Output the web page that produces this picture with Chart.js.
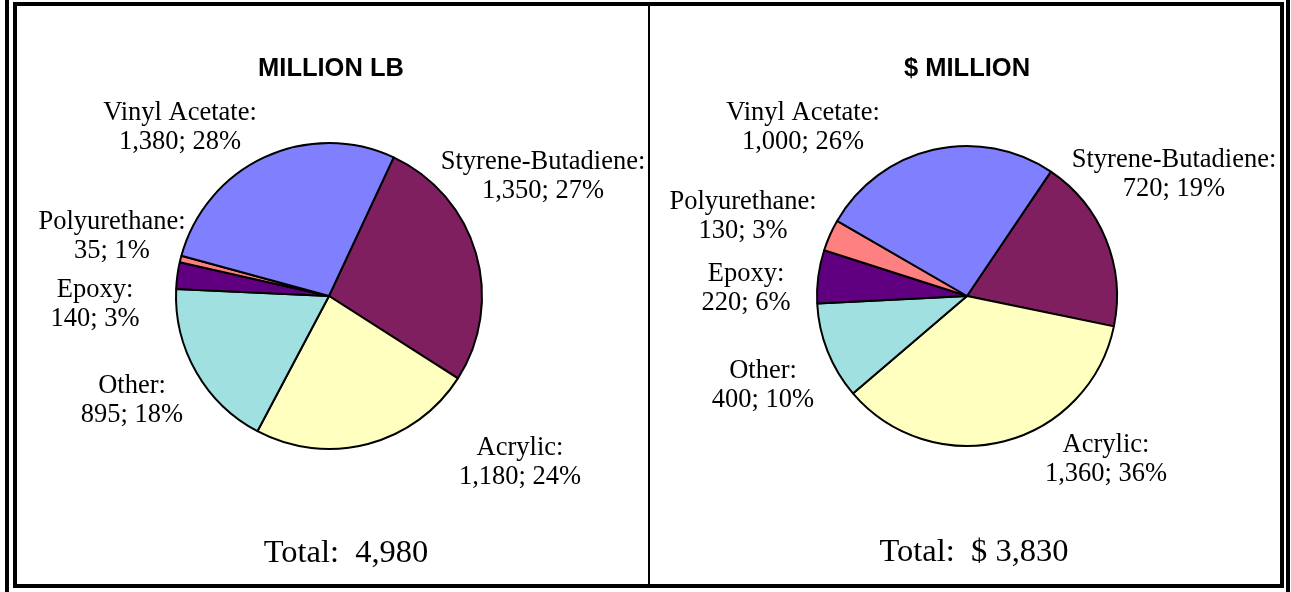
<!DOCTYPE html>
<html>
<head>
<meta charset="utf-8">
<script src="https://cdn.jsdelivr.net/npm/chart.js@4.4.1/dist/chart.umd.min.js"></script>
<style>
  html, body { margin: 0; padding: 0; background: #fff; }
  body { width: 1291px; height: 592px; position: relative; overflow: hidden; }
  .bar { position: absolute; background: #000; }
  .frame { position: absolute; left: 13px; top: 2px; width: 1263px; height: 578px; border: 4px solid #000; }
  canvas { position: absolute; }
</style>
</head>
<body>
<div class="bar" style="left:5px;top:0;width:4px;height:592px"></div>
<div class="bar" style="left:1286px;top:0;width:4px;height:592px"></div>
<div class="frame"></div>
<div class="bar" style="left:648px;top:6px;width:2px;height:578px"></div>
<canvas id="left" width="631" height="578" style="left:17px;top:6px;width:631px;height:578px"></canvas>
<canvas id="right" width="630" height="578" style="left:650px;top:6px;width:630px;height:578px"></canvas>
<script>
// ---- data ----
const categories = ['Styrene-Butadiene', 'Acrylic', 'Other', 'Epoxy', 'Polyurethane', 'Vinyl Acetate'];
const volumeValues = [1350, 1180, 895, 140, 35, 1380];      // million lb
const valueValues = [720, 1360, 400, 220, 130, 1000];       // $ million
const titles = ['MILLION LB', '$ MILLION'];
const totalPrefixes = ['Total:  ', 'Total:  $ '];
const sliceColors = ['#7F1F5F', '#FFFFC0', '#A0E0E0', '#600080', '#FF8080', '#8080FF'];

function fmt(n) { return n.toLocaleString('en-US'); }

// label offsets relative to the pie centre (layout only)
const leftLayout = {
  title: [2, -229], total: [17, 266],
  labels: [[214, -127], [191, 159], [-197, 97], [-234, 1], [-217, -67], [-149, -176]]
};
const rightLayout = {
  title: [0, -229], total: [7, 265],
  labels: [[207, -129], [139, 156], [-204, 82], [-221, -15], [-224, -87], [-164, -176]]
};

const textPlugin = {
  id: 'pieText',
  afterDraw(chart, args, opts) {
    const ctx = chart.ctx;
    const meta = chart.getDatasetMeta(0);
    const arc = meta.data[0];
    const cx = arc.x, cy = arc.y;
    const vals = chart.data.datasets[0].data;
    const total = vals.reduce((a, b) => a + b, 0);
    const L = opts.layout;
    ctx.save();
    ctx.fillStyle = '#000';
    ctx.textAlign = 'center';
    ctx.textBaseline = 'alphabetic';
    // title
    ctx.font = 'bold 25.5px "Liberation Sans", Arial, sans-serif';
    ctx.fillText(opts.title, cx + L.title[0], cy + L.title[1] + 9);
    // labels
    ctx.font = '26.5px "Liberation Serif", "Times New Roman", serif';
    chart.data.labels.forEach((lab, i) => {
      const v = vals[i];
      const pct = Math.round(v / total * 100);
      const [dx, dy] = L.labels[i];
      ctx.fillText(lab + ':', cx + dx, cy + dy);
      ctx.fillText(fmt(v) + '; ' + pct + '%', cx + dx, cy + dy + 29);
    });
    // total
    ctx.font = '32.5px "Liberation Serif", "Times New Roman", serif';
    ctx.fillText(opts.totalPrefix + fmt(total), cx + L.total[0], cy + L.total[1]);
    ctx.restore();
  }
};

function makePie(id, values, rotation, radius, pad, title, totalPrefix, layout) {
  return new Chart(document.getElementById(id), {
    type: 'pie',
    data: {
      labels: categories,
      datasets: [{
        data: values,
        backgroundColor: sliceColors,
        borderColor: '#000',
        borderWidth: 2,
        radius: radius
      }]
    },
    options: {
      responsive: false,
      animation: false,
      rotation: rotation,
      layout: { padding: pad },
      plugins: {
        legend: { display: false },
        tooltip: { enabled: false },
        pieText: { title: title, totalPrefix: totalPrefix, layout: layout }
      }
    },
    plugins: [textPlugin]
  });
}

// left pie centre at (311,290) local; right at (317,290)
makePie('left', volumeValues, 25, 153, { left: 2, right: 9, top: 2, bottom: 0 }, titles[0], totalPrefixes[0], leftLayout);
makePie('right', valueValues, 34, 150, { left: 4, right: 0, top: 2, bottom: 0 }, titles[1], totalPrefixes[1], rightLayout);
</script>
</body>
</html>
